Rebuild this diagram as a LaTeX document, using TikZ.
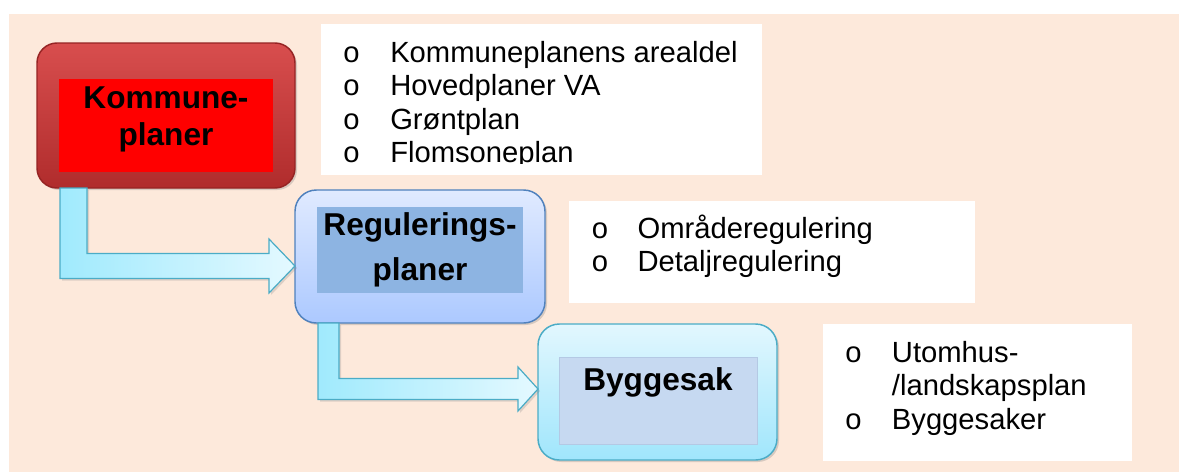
\documentclass[tikz,border=0pt]{standalone}
\usepackage{fontspec}
\setmainfont{Liberation Sans}
\usetikzlibrary{calc,shadows}
\definecolor{peach}{RGB}{253,233,219}
\definecolor{arrowedge}{RGB}{75,172,198}
\definecolor{arrowleft}{RGB}{160,234,253}
\definecolor{arrowright}{RGB}{228,249,255}

\begin{document}
\begin{tikzpicture}[x=0.75pt, y=-0.75pt,
	box/.style={rounded corners=15pt, line width=1.1pt, outer sep=0pt, inner sep=0pt, drop shadow={opacity=0.3, shadow xshift=1.5pt, shadow yshift=-1.5pt}},
	inbox/.style={outer sep=0pt, inner sep=0pt},
	lst/.style={fill=white, outer sep=0pt, inner sep=0pt},
	ttl/.style={anchor=base, inner sep=0pt, font={\bfseries\fontsize{23.7}{27.75}\selectfont}},
	itm/.style={anchor=base west, inner sep=0pt, font={\fontsize{21.9}{24.9}\selectfont}},
	flow/.style={draw=arrowedge, line width=0.9pt, left color=arrowleft, right color=arrowright, drop shadow={opacity=0.25, shadow xshift=1.5pt, shadow yshift=-1.5pt}}]
	\useasboundingbox (0,0) rectangle (1179,472);
	\fill[peach] (9,14) rectangle (1179,472);

	\node[lst, minimum width=330.75pt, minimum height=113.25pt] (lst1) at (541.5,99.5) {};
	\node[lst, minimum width=304.5pt, minimum height=76.5pt] (lst2) at (772,252) {};
	\node[lst, minimum width=231.75pt, minimum height=102.75pt] (lst3) at (977.5,392.5) {};

	\node[box, draw={rgb,255:red,150;green,36;blue,36}, top color={rgb,255:red,216;green,78;blue,78}, bottom color={rgb,255:red,176;green,44;blue,44}, minimum width=193.5pt, minimum height=108.75pt] (kommune) at (166,115.5) {};
	\node[inbox, fill=red, minimum width=160.5pt, minimum height=69.75pt] (kommunein) at (166,125.5) {};
	\node[ttl] (kommunetxt) at (166,108.3) {\begin{tabular}[t]{@{}c@{}}Kommune-\\planer\end{tabular}};

	\node[box, rounded corners=16pt, draw={rgb,255:red,79;green,129;blue,189}, top color={rgb,255:red,224;green,234;blue,255}, bottom color={rgb,255:red,172;green,201;blue,255}, minimum width=187.5pt, minimum height=99.75pt] (regulering) at (420,256.5) {};
	\node[inbox, fill={rgb,255:red,141;green,180;blue,226}, minimum width=154.5pt, minimum height=64.5pt] (reguleringin) at (420,250) {};
	\node[ttl, font={\bfseries\fontsize{23.7}{33.75}\selectfont}] (reguleringtxt) at (420,235) {\begin{tabular}[t]{@{}c@{}}Regulerings-\\planer\end{tabular}};

	\node[box, rounded corners=16pt, draw=arrowedge, top color={rgb,255:red,226;green,247;blue,254}, bottom color={rgb,255:red,160;green,230;blue,252}, minimum width=179.25pt, minimum height=102pt] (byggesak) at (657.5,392) {};
	\node[inbox, draw={rgb,255:red,180;green,201;blue,228}, line width=0.5pt, fill={rgb,255:red,198;green,217;blue,241}, minimum width=148.5pt, minimum height=65.25pt] (byggesakin) at (658,400.5) {};
	\node[ttl] (byggesaktxt) at (658,390) {Byggesak};

	\begin{scope}
		\clip (lst1.north west) rectangle ($(lst1.south east)+(0,-12)$);
		\node[itm] (lst1txt) at (343,62.7) {\begin{tabular}[t]{@{}p{35.25pt}@{}l@{}}o & Kommuneplanens arealdel\\o & Hovedplaner VA\\o & Grøntplan\\o & Flomsoneplan\end{tabular}};
	\end{scope}
	\node[itm] (lst2txt) at (591.7,238.3) {\begin{tabular}[t]{@{}p{34.2pt}@{}l@{}}o & Områderegulering\\o & Detaljregulering\end{tabular}};
	\node[itm] (lst3txt) at (845,362.7) {\begin{tabular}[t]{@{}p{35pt}@{}l@{}}o & Utomhus-\\ & /landskapsplan\\o & Byggesaker\end{tabular}};

	\path ($(kommune.south west)+(23,0)$) coordinate (s1) ($(regulering.west)+(0,9.5)$) coordinate (t1);
	\draw[flow] (s1) -- ++(27,0) |- ($(t1)+(-26,-12.5)$) -- ++(0,-14.5) -- (t1) -- ++(-26,27) -- ++(0,-14.5) -| (s1) -- cycle;
	\path ($(regulering.south west)+(23,0)$) coordinate (s2) ($(byggesak.west)+(0,-3)$) coordinate (t2);
	\draw[flow] (s2) -- ++(21,0) |- ($(t2)+(-20,-10.5)$) -- ++(0,-11.5) -- (t2) -- ++(-20,22) -- ++(0,-11.5) -| (s2) -- cycle;
\end{tikzpicture}
\end{document}
